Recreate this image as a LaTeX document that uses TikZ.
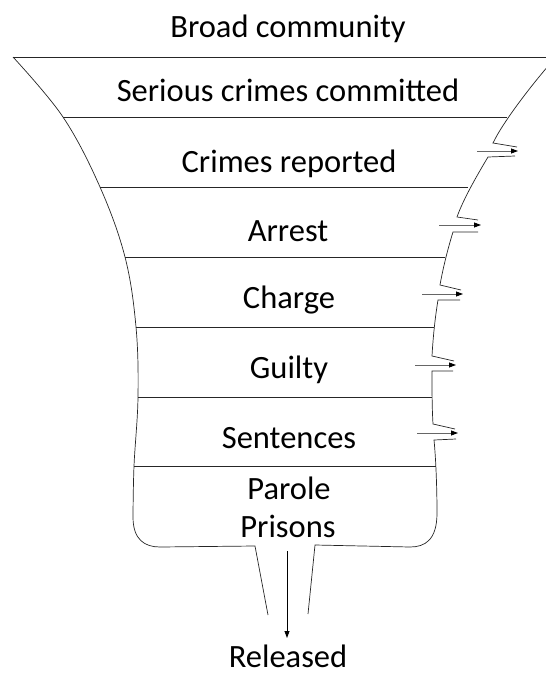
\documentclass[tikz,border=0pt]{standalone}
\usepackage{fontspec}
\setmainfont{Carlito}
\usetikzlibrary{arrows.meta}
\begin{document}
\begin{tikzpicture}[x=1pt,y=-1pt,
  outline/.style={line width=0.7pt,black!85},
  leak/.style={line width=0.8pt,black!60,-{Triangle[length=7pt,width=5pt,black]}},
  label/.style={anchor=base,inner sep=0pt,font=\fontsize{32.5}{38}\selectfont}]
\useasboundingbox (0,0) rectangle (546,675);
% text
\node[label] (broad) at (288,37) {Broad community};
\node[label] (serious) at (288,101) {Serious crimes committed};
\node[label] (reported) at (289,172) {Crimes reported};
\node[label] (arrest) at (288,241) {Arrest};
\node[label] (charge) at (289,308) {Charge};
\node[label] (guilty) at (289,378) {Guilty};
\node[label] (sentences) at (289,448) {Sentences};
\node[label] (parole) at (289,499) {Parole};
\node[label] (prisons) at (288,537) {Prisons};
\node[label] (released) at (288,667) {Released};
% top rim and upper right side (clipped at the right edge)
\begin{scope}
\clip (0,0) rectangle (546,675);
\draw[outline] (13,57) -- (560,57);
\draw[outline] (556,57) .. controls (532,84) and (503,122) .. (493,143) -- (517,147);
\end{scope}
% left side
\draw[outline] plot[smooth,tension=0.6] coordinates {(13,57) (63,117) (100,187) (125,257) (136,327) (138,397) (134,466) (133,517)}
  .. controls (133,540) and (145,547) .. (160,547) -- (255,546) -- (268,615);
% right side with leaks
\draw[outline] (515,156) -- (488,157) .. controls (476,177) and (463,200) .. (457,217) -- (478,220);
\draw[outline] (478,232) -- (453,232) .. controls (448,248) and (443,268) .. (440,285) -- (461,290);
\draw[outline] (460,300) -- (438,300) .. controls (435,318) and (433,338) .. (432,356) -- (454,361);
\draw[outline] (453,371) -- (432,371) .. controls (432,390) and (432,408) .. (433,424) -- (455,429);
\draw[outline] (456,439) -- (434,440) .. controls (436,460) and (437,490) .. (437,513)
  .. controls (437,540) and (425,547) .. (410,547) -- (315,545) -- (308,614);
% layer lines
\draw[outline] (63,117) -- (507,117);
\draw[outline] (100,187) -- (468,187);
\draw[outline] (125,257) -- (445,257);
\draw[outline] (136,327) -- (434,327);
\draw[outline] (138,397) -- (432,397);
\draw[outline] (134,466) -- (436,466);
% leak arrows
\coordinate (l1a) at (477,151); \coordinate (l1b) at (518,151);
\coordinate (l2a) at (439,225); \coordinate (l2b) at (481,225);
\coordinate (l3a) at (422,294); \coordinate (l3b) at (463,294);
\coordinate (l4a) at (415,365); \coordinate (l4b) at (456,365);
\coordinate (l5a) at (417,433); \coordinate (l5b) at (458,433);
\draw[leak] (l1a) -- (l1b);
\draw[leak] (l2a) -- (l2b);
\draw[leak] (l3a) -- (l3b);
\draw[leak] (l4a) -- (l4b);
\draw[leak] (l5a) -- (l5b);
% release arrow
\coordinate (outtop) at (287,551);
\draw[line width=0.8pt,-{Triangle[length=7pt,width=5pt]}] (outtop) -- (287,638);
\end{tikzpicture}
\end{document}
